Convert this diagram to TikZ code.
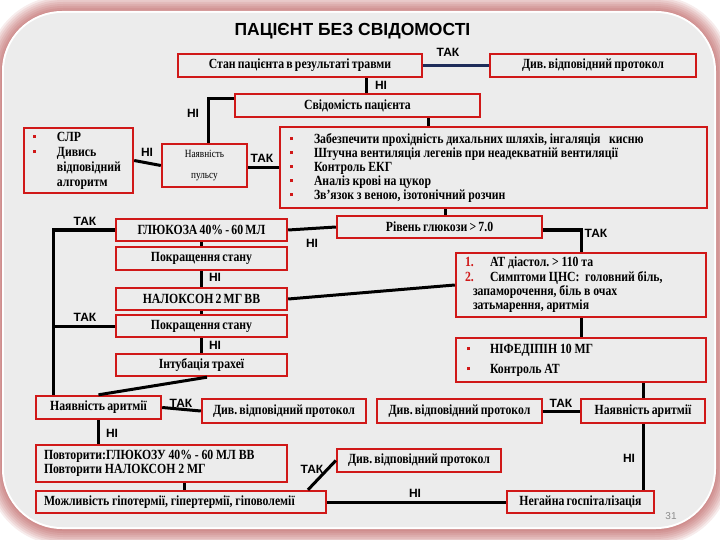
\documentclass[tikz,border=0pt]{standalone}
\usepackage{fontspec}
\newfontfamily\bx{Liberation Serif}[FakeStretch=0.84,WordSpace=0.75]
\newfontfamily\lab{Liberation Sans}
\usetikzlibrary{calc}
\definecolor{bred}{RGB}{208,24,24}
\definecolor{panel}{RGB}{236,236,236}
\definecolor{navy}{RGB}{31,45,90}
\definecolor{glow}{RGB}{170,45,45}
\newcommand{\sq}{\textcolor{bred}{\rule[3pt]{3pt}{3pt}}}
\newcommand{\bitem}[2]{\makebox[#1][l]{\sq}#2}
\newcommand{\nitem}[2]{\makebox[25pt][l]{\textcolor{bred}{#1}}#2}
\newcommand{\ws}{\spaceskip=2.8pt\relax}
\frenchspacing
\begin{document}
\begin{tikzpicture}[x=1pt,y=-1pt,
  box/.style={draw=bred, line width=2.4pt, fill=panel, inner sep=0pt,
    font=\bx\bfseries\fontsize{14}{14}\selectfont, align=center},
  conn/.style={line width=3pt, draw=black},
  yn/.style={font=\lab\bfseries\fontsize{12}{12}\selectfont, inner sep=0pt}]
\useasboundingbox (0,0) rectangle (720,540);
\fill[white] (0,0) rectangle (720,540);
% panel with glow
\begin{scope}
\clip (0,0) rectangle (720,540);
\foreach \i in {16,14,...,2}{
  \pgfmathsetmacro\rr{60+\i}
  \fill[glow, opacity=0.09, rounded corners=\rr pt] (3-\i,12-\i) rectangle (715+\i,528+\i+1);
}
\fill[white, rounded corners=60pt] (2,11) rectangle (716,529);
\fill[panel, rounded corners=58pt] (4,13) rectangle (714,527);
\end{scope}

\node[font=\lab\bfseries\fontsize{17.5}{18}\selectfont, inner sep=0pt] (title) at (352.5,31) {ПАЦІЄНТ БЕЗ СВІДОМОСТІ};

% boxes
\node[box, minimum width=244pt, minimum height=23pt] (b1) at (300,65.5) {Стан пацієнта в результаті травми};
\node[box, minimum width=206pt, minimum height=23pt] (p1) at (593,65.5) {Див. відповідний протокол};
\node[box, minimum width=245pt, minimum height=23pt] (sv) at (357.5,105.5) {Свідомість пацієнта};
\node[box, minimum width=109pt, minimum height=65pt, align=left, inner xsep=9pt, text width=91pt,
  font=\bx\bfseries\fontsize{14}{15}\selectfont] (slr) at (78.5,160.5)
  {\ws\bitem{24pt}{СЛР}\\ \bitem{24pt}{Дивись}\\ \hspace*{24pt}відповідний\\ \hspace*{24pt}алгоритм};
\node[box, minimum width=85pt, minimum height=43pt, font=\bx\fontsize{11}{21}\selectfont] (pulse) at (204.5,165.5) {Наявність\\пульсу};
\node[box, minimum width=427pt, minimum height=81pt, align=left, inner xsep=10pt, text width=407pt] (big) at (493.5,167.5)
  {\ws\bitem{24pt}{Забезпечити прохідність дихальних шляхів, інгаляція \ \ кисню}\\
   \bitem{24pt}{Штучна вентиляція легенів при неадекватній вентиляції}\\
   \bitem{24pt}{Контроль ЕКГ}\\
   \bitem{24pt}{Аналіз крові на цукор}\\
   \bitem{24pt}{Зв’язок з веною, ізотонічний розчин}};
\node[box, minimum width=205pt, minimum height=22pt] (riv) at (439.5,227) {Рівень глюкози > 7.0};
\node[box, minimum width=171pt, minimum height=22pt] (glu) at (201.5,230) {ГЛЮКОЗА 40\% - 60 МЛ};
\node[box, minimum width=171pt, minimum height=23pt] (pk1) at (201.5,258.5) {Покращення стану};
\node[box, minimum width=171pt, minimum height=22pt] (nal) at (201.5,299) {НАЛОКСОН 2 МГ ВВ};
\node[box, minimum width=171pt, minimum height=22pt] (pk2) at (201.5,326) {Покращення стану};
\node[box, minimum width=171pt, minimum height=22pt] (int) at (201.5,365) {Інтубація трахеї};
\node[box, minimum width=250pt, minimum height=64pt, align=left, inner xsep=9pt, text width=232pt,
  font=\bx\bfseries\fontsize{14}{14.3}\selectfont] (at) at (581,285)
  {\ws\nitem{1.}{АТ діастол. > 110 та}\\
   \nitem{2.}{Симптоми ЦНС: \ головний біль,}\\
   \hspace*{8pt}запаморочення, біль в очах\\
   \hspace*{8pt}затьмарення, аритмія};
\node[box, minimum width=250pt, minimum height=44pt, align=left, inner xsep=11pt, text width=228pt,
  font=\bx\bfseries\fontsize{14}{20}\selectfont] (nif) at (581,360)
  {\ws\bitem{23pt}{НІФЕДІПІН 10 МГ}\\ \bitem{23pt}{Контроль АТ}};
\node[box, minimum width=125pt, minimum height=23pt] (arL) at (98.5,407.5) {Наявність аритмії};
\node[box, minimum width=164pt, minimum height=24pt] (p2) at (284,411) {Див. відповідний протокол};
\node[box, minimum width=165pt, minimum height=24pt] (p3) at (459.5,411) {Див. відповідний протокол};
\node[box, minimum width=124pt, minimum height=24pt] (arR) at (643,411) {Наявність аритмії};
\node[box, minimum width=251pt, minimum height=37pt, align=left, inner xsep=8pt, text width=235pt,
  font=\bx\bfseries\fontsize{14}{13.5}\selectfont] (rep) at (161.5,463.5)
  {\ws Повторити:ГЛЮКОЗУ 40\% - 60 МЛ ВВ\\Повторити НАЛОКСОН 2 МГ};
\node[box, minimum width=164pt, minimum height=23pt] (p4) at (419,460.5) {Див. відповідний протокол};
\node[box, minimum width=290pt, minimum height=22pt, align=left, inner xsep=8pt, text width=274pt] (mozh) at (181,502)
  {\ws Можливість гіпотермії, гіпертермії, гіповолемії};
\node[box, minimum width=147pt, minimum height=22pt] (neg) at (580.5,502) {Негайна госпіталізація};

% connectors
\draw[conn, draw=navy] (b1.east) -- (p1.west);
\draw[conn] ([xshift=66pt]b1.south) -- ([xshift=8.5pt]sv.north);
\draw[conn] ([yshift=6.5pt]sv.west) -| ([xshift=3.5pt]pulse.north);
\draw[conn] (slr.east) -- (pulse.west);
\draw[conn] ([yshift=-2pt]pulse.east) -- (big.west);
\draw[conn] ([xshift=70.5pt]sv.south) -- ([xshift=70.5pt]sv.south |- big.north);
\draw[conn] ([xshift=5.5pt]riv.north |- big.south) -- ([xshift=5.5pt]riv.north);
\draw[conn] (riv.west) -- (glu.east);
\draw[conn] ([yshift=-3pt]riv.east) -| (at.north);
\draw[conn] (glu.south) -- (pk1.north);
\draw[conn] (pk1.south) -- (nal.north);
\draw[conn] (nal.south) -- (pk2.north);
\draw[conn] (pk2.south) -- (int.north);
\coordinate (lv) at ([xshift=-45.5pt]arL.north);
\draw[conn] (glu.west) -| (lv);
\draw[conn] (pk2.west) -- (pk2.west -| lv);
\draw[conn] ([xshift=5.5pt]int.south) -- (arL.north);
\draw[conn] (nal.east) -- (at.west);
\draw[conn] (at.south) -- (nif.north);
\draw[conn] (nif.south -| arR.north) -- (arR.north);
\draw[conn] (arL.east) -- (p2.west);
\draw[conn] (p3.east) -- (arR.west);
\draw[conn] (arR.south) -- (arR.south |- neg.north);
\draw[conn] (arL.south) -- (arL.south |- rep.north);
\draw[conn] ([xshift=22.5pt]rep.south) -- ([xshift=22.5pt]rep.south |- mozh.north);
\draw[conn] ([xshift=127pt]mozh.north) -- (p4.west);
\draw[conn] (mozh.east) -- (neg.west);

% labels
\node[yn] (l1) at (448,52) {ТАК};
\node[yn] (l2) at (381,85) {НІ};
\node[yn] (l3) at (193,113) {НІ};
\node[yn] (l4) at (147,152) {НІ};
\node[yn] (l5) at (262,158) {ТАК};
\node[yn] (l6) at (312,243) {НІ};
\node[yn] (l7) at (596,233) {ТАК};
\node[yn] (l8) at (85,221) {ТАК};
\node[yn] (l9) at (215,277) {НІ};
\node[yn] (l10) at (85,317) {ТАК};
\node[yn] (l11) at (215,345) {НІ};
\node[yn] (l12) at (181,403) {ТАК};
\node[yn] (l13) at (561,403) {ТАК};
\node[yn] (l14) at (112,433) {НІ};
\node[yn] (l15) at (629,458) {НІ};
\node[yn] (l16) at (312,469) {ТАК};
\node[yn] (l17) at (415,493) {НІ};
\node[font=\lab\fontsize{10}{10}\selectfont, text=black!45, inner sep=0pt] (pg) at (671,516) {31};
\end{tikzpicture}
\end{document}
